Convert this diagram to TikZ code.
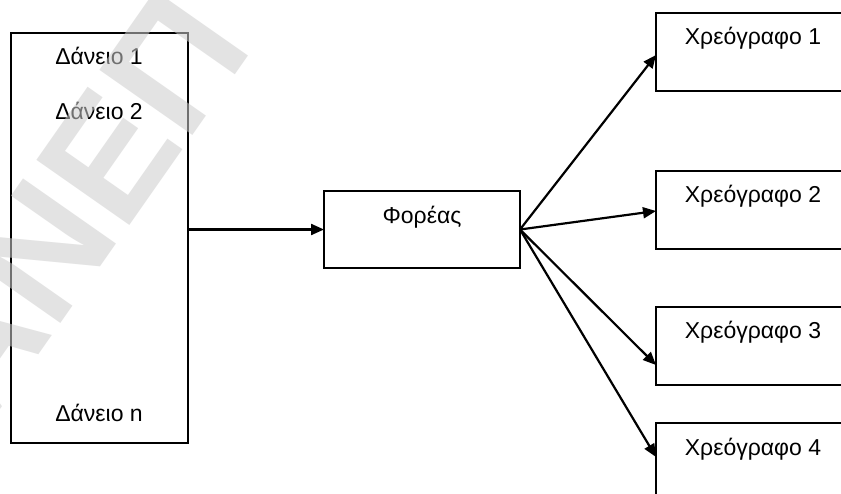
\documentclass[tikz,border=0pt]{standalone}
\usepackage{fontspec}
\setmainfont{Liberation Sans}
\usetikzlibrary{arrows.meta,calc}
\definecolor{wmgray}{gray}{0.8}
\tikzset{
  box/.style={draw=black, line width=1.5pt, fill=white, rectangle, inner sep=0pt, outer sep=0pt, anchor=north west},
  bondbox/.style={box, minimum width=196pt, minimum height=78pt},
  lbl/.style={anchor=base, inner sep=0pt, font=\fontsize{23}{27}\selectfont},
  arr/.style={line width=2.2pt, -{Triangle[length=13pt,width=11pt]}},
  watermark/.style={anchor=base west, inner sep=0pt, rotate=55, text=wmgray, text opacity=0.55,
    font=\fontsize{165}{170}\selectfont\bfseries}
}
\begin{document}
\begin{tikzpicture}[x=1pt, y=-1pt]
  \useasboundingbox (0,0) rectangle (841,493);
  \fill[white] (0,0) rectangle (841,493);
  \clip (0,0) rectangle (841,493);

  % pool of loans
  \node[box, minimum width=177pt, minimum height=410pt] (loans) at (11,33) {};
  \node[lbl] (loan1) at (99,64) {Δάνειο 1};
  \node[lbl] (loan2) at (99,119) {Δάνειο 2};
  \node[lbl] (loann) at (99,421) {Δάνειο n};

  % issuing vehicle
  \node[box, minimum width=196pt, minimum height=77pt] (carrier) at (324,191) {};
  \node[lbl] (carrierlbl) at (422,223) {Φορέας};

  % securities
  \node[bondbox] (bond1) at (656,13) {};
  \node[bondbox] (bond2) at (656,171) {};
  \node[bondbox] (bond3) at (656,307) {};
  \node[bondbox] (bond4) at (656,423) {};
  \node[lbl] (bond1lbl) at (753,44) {Χρεόγραφο 1};
  \node[lbl] (bond2lbl) at (753,202) {Χρεόγραφο 2};
  \node[lbl] (bond3lbl) at (753,338) {Χρεόγραφο 3};
  \node[lbl] (bond4lbl) at (753,455) {Χρεόγραφο 4};

  % flows
  \draw[arr] (loans.east |- carrier.west) -- (carrier.west);
  \draw[arr] (carrier.east) -- ([yshift=-3pt]bond1.west);
  \draw[arr] (carrier.east) -- ([yshift=-1pt]bond2.west);
  \draw[arr] (carrier.east) -- ([yshift=-19pt]bond3.west);
  \draw[arr] (carrier.east) -- ([yshift=5pt]bond4.west);

  % diagonal stamp
  \node[watermark] (stamp) at (-13.5,430) {ΑΝΕΠ};
\end{tikzpicture}
\end{document}
